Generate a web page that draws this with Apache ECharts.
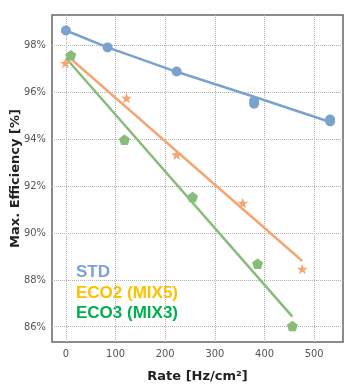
<!DOCTYPE html>
<html>
<head>
    <meta charset="utf-8">
    <title>Max. Efficiency</title>
    <script src="https://cdn.jsdelivr.net/npm/echarts@6/dist/echarts.min.js"></script>
    <style>
        html, body { margin: 0; padding: 0; background: #fff; }
        #chart { width: 355px; height: 387px; }
    </style>
</head>
<body>
<div id="chart"></div>
<script type="text/javascript">
    // 测量点 [rate, efficiency]
    var stdPoints = [[0, 98.62], [84, 97.9], [223, 96.87], [379, 95.62], [379, 95.5], [532, 94.83], [532, 94.75]];
    var eco2Points = [[-1, 97.23], [122, 95.74], [223, 93.33], [356, 91.27], [476, 88.46]];
    var eco3Points = [[10, 97.57], [118, 93.97], [255, 91.53], [386, 88.68], [456, 86.03]];
    // 拟合线
    var stdFit = [[0, 98.62], [84, 97.9], [223, 96.86], [379, 95.8], [532, 94.72]];
    var eco2Fit = [[0, 97.6], [476, 88.8]];
    var eco3Fit = [[0, 97.45], [456, 86.43]];
    // 刻度
    var xTicks = [0, 100, 200, 300, 400, 500];
    var yTicks = [86, 88, 90, 92, 94, 96, 98];
    var labels = ['STD', 'ECO2 (MIX5)', 'ECO3 (MIX3)'];

    var blue = '#7BA2CF';
    var orange = '#F4A672';
    var green = '#86BD78';
    var star = 'path://M0,-10 L2.35,-3.24 L9.51,-3.09 L3.8,1.24 L5.88,8.09 L0,4 L-5.88,8.09 L-3.8,1.24 L-9.51,-3.09 L-2.35,-3.24 Z';
    var pentagon = 'path://M0,-10 L9.51,-3.09 L5.88,8.09 L-5.88,8.09 L-9.51,-3.09 Z';
    var tickFont = { fontFamily: 'Liberation Sans Narrow, DejaVu Sans Condensed, sans-serif', fontSize: 11, color: '#555' };
    var split = { show: true, lineStyle: { type: 'dotted', color: '#b0b0b0', width: 1 } };

    var myChart = echarts.init(document.getElementById('chart'));
    myChart.setOption({
        animation: false,
        backgroundColor: '#fff',
        grid: {
            left: 52, top: 15, right: 12, bottom: 45,
            outerBoundsMode: 'none',
            containLabel: false,
            show: true, borderColor: '#666', borderWidth: 1.5
        },
        xAxis: {
            type: 'value',
            min: -28, max: 558,
            name: 'Rate [Hz/cm²]',
            nameLocation: 'middle',
            nameGap: 28,
            nameMoveOverlap: false,
            nameTextStyle: { fontFamily: 'DejaVu Sans', fontWeight: 'bold', fontSize: 13, color: '#222' },
            axisLine: { show: false },
            axisTick: { show: false, customValues: xTicks },
            axisLabel: Object.assign({ customValues: xTicks, margin: 7 }, tickFont),
            splitLine: split
        },
        yAxis: {
            type: 'value',
            min: 85.35, max: 99.28,
            name: 'Max. Efficiency [%]',
            nameLocation: 'middle',
            nameGap: 30,
            nameMoveOverlap: false,
            nameTextStyle: { fontFamily: 'DejaVu Sans', fontWeight: 'bold', fontSize: 13, color: '#222' },
            axisLine: { show: false },
            axisTick: { show: false, customValues: yTicks },
            axisLabel: Object.assign({
                customValues: yTicks, margin: 6,
                formatter: function (v) { return Math.round(v) + '%'; }
            }, tickFont),
            splitLine: split
        },
        graphic: [
            { type: 'text', left: 76, top: 264, style: { text: labels[0], fill: '#7BA2D6', font: 'bold 17px Liberation Sans, Arial, sans-serif' } },
            { type: 'text', left: 76, top: 285, style: { text: labels[1], fill: '#FFC000', font: 'bold 17px Liberation Sans, Arial, sans-serif' } },
            { type: 'text', left: 76, top: 305, style: { text: labels[2], fill: '#00B050', font: 'bold 17px Liberation Sans, Arial, sans-serif' } }
        ],
        series: [
            { type: 'line', data: stdFit, showSymbol: false, lineStyle: { color: blue, width: 2.5 }, z: 2 },
            { type: 'line', data: eco2Fit, showSymbol: false, lineStyle: { color: orange, width: 2.5 }, z: 2 },
            { type: 'line', data: eco3Fit, showSymbol: false, lineStyle: { color: green, width: 2.5 }, z: 2 },
            { type: 'scatter', data: stdPoints, symbol: 'circle', symbolSize: 10, itemStyle: { color: blue, opacity: 1 }, z: 3 },
            { type: 'scatter', data: eco2Points, symbol: star, symbolKeepAspect: true, symbolSize: 11, itemStyle: { color: orange, opacity: 1 }, z: 3 },
            { type: 'scatter', data: eco3Points, symbol: pentagon, symbolKeepAspect: true, symbolSize: 11, itemStyle: { color: green, opacity: 1 }, z: 3 }
        ]
    });
</script>
</body>
</html>
